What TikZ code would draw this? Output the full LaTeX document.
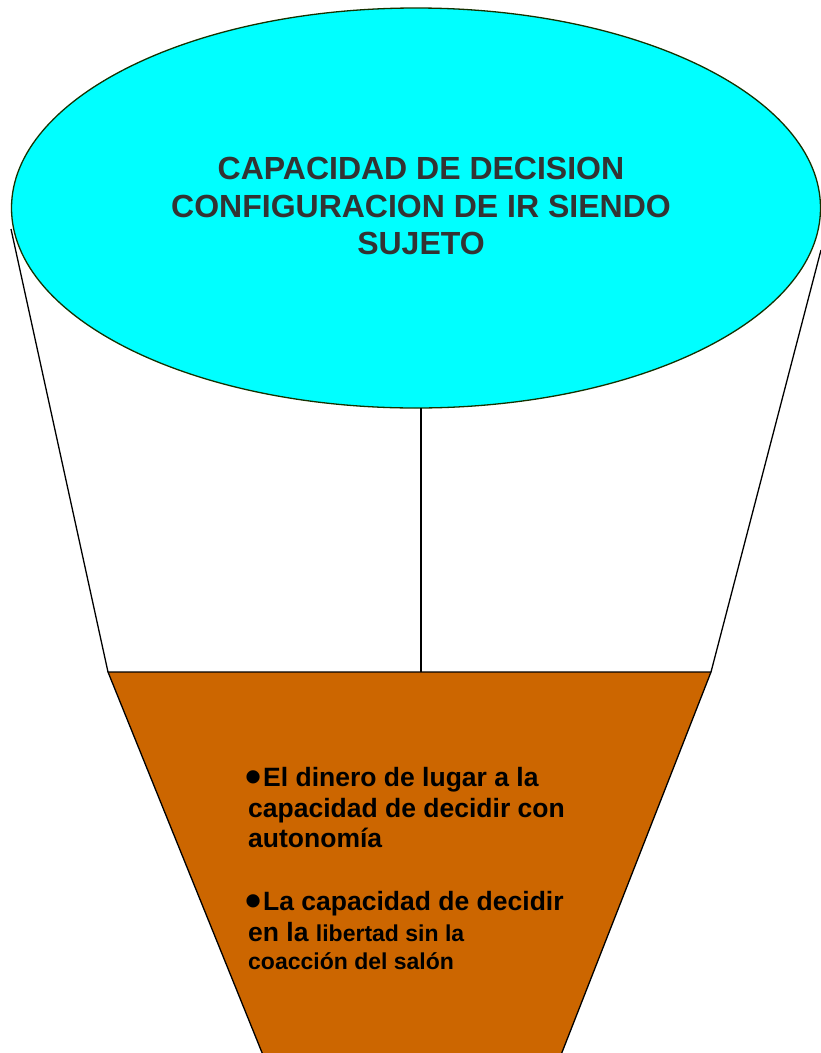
\documentclass[tikz,border=0pt]{standalone}
\usepackage{fontspec}
\setmainfont{Liberation Sans}
\usetikzlibrary{shapes.geometric}
\definecolor{cyanfill}{RGB}{0,255,255}
\definecolor{ellborder}{RGB}{20,50,0}
\definecolor{brownfill}{RGB}{204,102,0}
\definecolor{titlegray}{RGB}{51,51,51}
\newcommand{\mybul}{\makebox[15pt][l]{\hspace{-3pt}\smash{\raisebox{-6pt}{\fontsize{46}{30}\selectfont •}}}}
\tikzset{
  funnelline/.style={draw=black, line width=1.3pt},
  bigtext/.style={font=\bfseries\fontsize{26.5}{30}\selectfont, anchor=base west, inner sep=0pt},
  smalltext/.style={font=\bfseries\fontsize{23}{30}\selectfont, anchor=base west, inner sep=0pt},
}
\begin{document}
\begin{tikzpicture}[x=1pt,y=-1pt]
\useasboundingbox (0,0) rectangle (821,1053);
\clip (0,0) rectangle (821,1053);
\fill[white] (0,0) rectangle (821,1053);
% funnel coordinates
\coordinate (lt) at (11,229);
\coordinate (lb) at (108,672);
\coordinate (rt) at (821,250);
\coordinate (rb) at (711,672);
\coordinate (mb) at (421,672);
\coordinate (bl) at (265,1060);
\coordinate (br) at (559,1060);
% brown trapezoid
\path[fill=brownfill, draw=black, line width=1.3pt] (lb) -- (rb) -- (br) -- (bl) -- cycle;
% side lines
\draw[funnelline] (lt) -- (lb);
\draw[funnelline] (rt) -- (rb);
% ellipse
\node[ellipse, draw=ellborder, line width=1.3pt, fill=cyanfill, minimum width=809pt, minimum height=400pt, inner sep=0pt] (ell) at (416,208) {};
\coordinate (mt) at (421,408);
\draw[funnelline] (mt) -- (mb);
% title
\node[font=\bfseries\fontsize{32}{37.5}\selectfont, text=titlegray, align=center, inner sep=0pt] (title) at (421,206)
  {CAPACIDAD DE DECISION\\CONFIGURACION DE IR SIENDO\\SUJETO};
% bullets
\node[bigtext] (b1a) at (248,786) {\mybul El dinero de lugar a la};
\node[bigtext] (b1b) at (248,817) {capacidad de decidir con};
\node[bigtext] (b1c) at (248,847) {autonomía};
\node[bigtext] (b2a) at (248,910) {\mybul La capacidad de decidir};
\node[bigtext] (b2b) at (248,941) {en la \fontsize{23}{30}\selectfont libertad sin la};
\node[smalltext] (b2c) at (248,969) {coacción del salón};
\end{tikzpicture}
\end{document}
